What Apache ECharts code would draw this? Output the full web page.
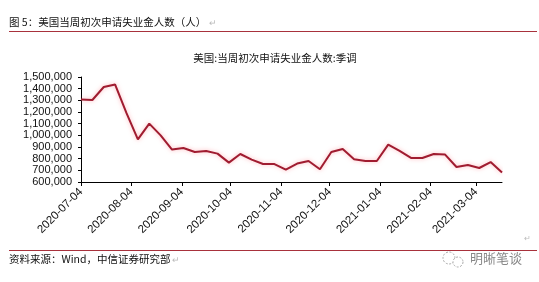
<!DOCTYPE html>
<html>
<head>
<meta charset="utf-8">
<script src="https://cdn.jsdelivr.net/npm/echarts@6/dist/echarts.min.js"></script>
<style>
html,body{margin:0;padding:0;background:#fff;}
#c{width:539px;height:282px;}
</style>
</head>
<body>
<div id="c"></div>
<script>
const weeks = ['2020-07-04','2020-07-11','2020-07-18','2020-07-25','2020-08-01','2020-08-08','2020-08-15','2020-08-22','2020-08-29',
  '2020-09-05','2020-09-12','2020-09-19','2020-09-26','2020-10-03','2020-10-10','2020-10-17','2020-10-24','2020-10-31',
  '2020-11-07','2020-11-14','2020-11-21','2020-11-28','2020-12-05','2020-12-12','2020-12-19','2020-12-26',
  '2021-01-02','2021-01-09','2021-01-16','2021-01-23','2021-01-30','2021-02-06','2021-02-13','2021-02-20','2021-02-27',
  '2021-03-06','2021-03-13','2021-03-20'];
const claims = [1307000,1303000,1414000,1435000,1190000,966000,1100000,1000000,878000,
  891000,857000,866000,843000,766000,840000,792000,754000,754000,
  706000,758000,780000,709000,857000,883000,795000,780000,
  780000,920000,866000,806000,806000,840000,835000,729000,746000,
  720000,771000,681000];
const xTickLabels = ['2020-07-04','2020-08-04','2020-09-04','2020-10-04','2020-11-04','2020-12-04','2021-01-04','2021-02-04','2021-03-04'];
const yMin = 600000, yMax = 1500000, yStep = 100000;

const headerText = '图 5：美国当周初次申请失业金人数（人）';
const chartTitle = '美国:当周初次申请失业金人数:季调';
const footerText = '资料来源：Wind，中信证券研究部';
const watermark = '明晰笔谈';

// day number since first week (UTC, avoids DST issues)
function dayNum(s){const p=s.split('-');return Date.UTC(+p[0],+p[1]-1,+p[2])/86400000;}
const base = dayNum(weeks[0]);
function dayOf(s){return dayNum(s)-base;}
function fmtDay(v){const d=new Date((v+base)*86400000);const m=d.getUTCMonth()+1, dd=d.getUTCDate();
  return d.getUTCFullYear()+'-'+(m<10?'0':'')+m+'-'+(dd<10?'0':'')+dd;}
function commas(v){return String(v).replace(/\B(?=(\d{3})+(?!\d))/g, ',');}

const tickDays = xTickLabels.map(dayOf);
const chart = echarts.init(document.getElementById('c'), null, {renderer:'canvas'});
const cjk = '"Noto Sans CJK SC", sans-serif';
chart.setOption({
  backgroundColor:'#fff',
  animation:false,
  title:{text:chartTitle,left:270,top:48,textAlign:'center',
    textStyle:{fontFamily:cjk,fontSize:10.5,fontWeight:'normal',color:'#111'}},
  grid:{left:81,right:37,top:77,bottom:100,containLabel:false},
  xAxis:{type:'value',min:0,max:dayOf(weeks[weeks.length-1]),
    axisLine:{show:true,lineStyle:{color:'#000',width:1}},
    axisTick:{show:true,length:4,customValues:tickDays,lineStyle:{color:'#000'}},
    axisLabel:{customValues:tickDays,rotate:45,margin:8,color:'#111',showMaxLabel:true,showMinLabel:true,
      fontFamily:'Liberation Sans, Arial, sans-serif',fontSize:11.5,
      formatter:function(v){return fmtDay(v);}},
    splitLine:{show:false}},
  yAxis:{type:'value',min:yMin,max:yMax,interval:yStep,
    axisLine:{show:true,lineStyle:{color:'#000',width:1}},
    axisTick:{show:true,length:3,lineStyle:{color:'#000'}},
    axisLabel:{margin:9,color:'#111',fontFamily:'Liberation Sans, Arial, sans-serif',fontSize:11,
      formatter:function(v){return commas(v);}},
    splitLine:{show:false}},
  series:[{type:'line',data:weeks.map((d,i)=>[dayOf(d),claims[i]]),symbol:'none',
    lineStyle:{color:'#a01c30',width:2,shadowColor:'rgba(255,120,130,0.55)',shadowBlur:4},
    itemStyle:{color:'#a01c30'}}],
  graphic:[
    {type:'text',left:9,top:17,style:{text:headerText,font:'10.5px '+cjk,fill:'#111'}},
    {type:'text',left:209,top:18,style:{text:'↵',font:'9px '+cjk,fill:'#bbb'}},
    {type:'line',shape:{x1:9,y1:31.5,x2:537,y2:31.5},style:{stroke:'#a8323c',lineWidth:1}},
    {type:'line',shape:{x1:9,y1:250.5,x2:537,y2:250.5},style:{stroke:'#a8323c',lineWidth:1}},
    {type:'text',left:524,top:234,style:{text:'↵',font:'8px '+cjk,fill:'#bbb'}},
    {type:'text',left:9,top:254,style:{text:footerText,font:'10.5px '+cjk,fill:'#111'}},
    {type:'text',left:172,top:255,style:{text:'↵',font:'9px '+cjk,fill:'#bbb'}},
    {type:'circle',shape:{cx:449,cy:258,r:6},style:{fill:'none',stroke:'#aaa',lineWidth:1,lineDash:[2,1.5]}},
    {type:'circle',shape:{cx:458,cy:262,r:5},style:{fill:'#fff',stroke:'#aaa',lineWidth:1,lineDash:[2,1.5]}},
    {type:'text',left:470,top:252,style:{text:watermark,font:'13px '+cjk,fill:'#888'}}
  ]
});
</script>
</body>
</html>
